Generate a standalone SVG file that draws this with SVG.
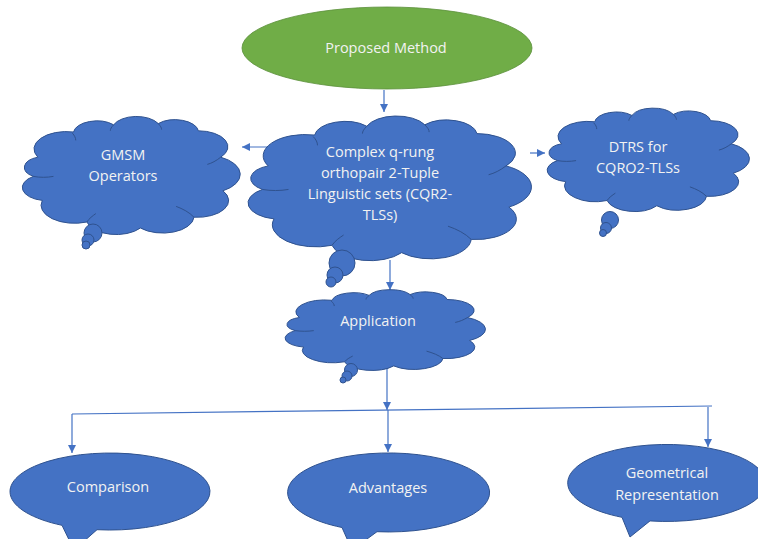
<svg xmlns="http://www.w3.org/2000/svg" xmlns:xlink="http://www.w3.org/1999/xlink" width="758" height="539" viewBox="0 0 758 539">
<style>
.blue{fill:#4472C4;stroke:#2F528F;stroke-width:1}
.cl{fill:#4472C4;stroke:#2F528F;stroke-width:1;vector-effect:non-scaling-stroke}
.inner{fill:none;stroke:#2F528F;stroke-width:1;vector-effect:non-scaling-stroke}
.green{fill:#70AD47;stroke:#5B8F3A;stroke-width:0.8}
.t{font-family:"Open Sans","Liberation Sans",sans-serif;font-size:14.5px;fill:#F2F2F2;text-anchor:middle}
.conn{fill:none;stroke:#4472C4;stroke-width:1.2}
</style>
<defs>
<marker id="arr" viewBox="0 0 10 10" refX="10" refY="5" markerWidth="8" markerHeight="8" markerUnits="userSpaceOnUse" orient="auto">
<path d="M0 0 L10 5 L0 10 Z" fill="#4472C4"/>
</marker>
<g id="cloud">
<path class="cl" d="M 8 36 A 14.5 14.5 0 0 1 24 15 A 10.5 10.5 0 0 1 42 9 A 11 11 0 0 1 62 8 A 10.5 10.5 0 0 1 80 14 A 13.3 13.3 0 0 1 90 36 A 16 16 0 0 1 91 64 A 14 14 0 0 1 78 86 A 14 14 0 0 1 54 95 A 13.5 13.5 0 0 1 30 90 A 15 15 0 0 1 10 72 A 11 11 0 0 1 6 52 A 9 9 0 0 1 8 36 Z"/>
<path class="inner" d="M 23.5 16 C 24.5 18 25 20 25 22 M 42 9 C 41 11 40.5 12.5 40.5 14 M 62 8 C 63 10 63.5 11.5 63.5 13 M 90 36 C 88 39 86 41 84 42 M 78 86 C 76 82 73 79 70 77 M 30 90 C 31 87 32.5 85 34 83 M 6 52 C 9 53 12 53 15 52"/>
</g>
</defs>

<g id="connectors">
<path class="conn" d="M384 90 L384 112" marker-end="url(#arr)"/>
<path class="conn" d="M276 147 L242 147" marker-end="url(#arr)"/>
<path class="conn" d="M530 153 L545 153" marker-end="url(#arr)"/>
<path class="conn" d="M390 260 L390 290" marker-end="url(#arr)"/>
<path class="conn" d="M387 368 L387 410" marker-end="url(#arr)"/>
<path class="conn" d="M72 414 L712 406"/>
<path class="conn" d="M72 414 L72 453" marker-end="url(#arr)"/>
<path class="conn" d="M388 410 L388 452" marker-end="url(#arr)"/>
<path class="conn" d="M708 407 L708 447" marker-end="url(#arr)"/>
</g>

<g id="node-proposed">
<ellipse class="green" cx="387" cy="48" rx="145" ry="41"/>
<text class="t" x="386" y="53">Proposed Method</text>
</g>

<g id="node-gmsm">
<use xlink:href="#cloud" transform="translate(20,114) scale(2.23,1.2)"/>
<circle class="blue" cx="93" cy="233" r="9"/>
<circle class="blue" cx="88" cy="240" r="6"/>
<circle class="blue" cx="86" cy="245" r="4"/>
<text class="t" x="123" y="160">GMSM</text>
<text class="t" x="123" y="181">Operators</text>
</g>

<g id="node-central">
<use xlink:href="#cloud" transform="translate(245,113) scale(2.9,1.47)"/>
<circle class="blue" cx="342" cy="263" r="13"/>
<circle class="blue" cx="335" cy="275" r="8"/>
<circle class="blue" cx="331" cy="282" r="5"/>
<text class="t" x="380" y="157">Complex q-rung</text>
<text class="t" x="380" y="178">orthopair 2-Tuple</text>
<text class="t" x="380" y="199">Linguistic sets (CQR2-</text>
<text class="t" x="380" y="220">TLSs)</text>
</g>

<g id="node-dtrs">
<use xlink:href="#cloud" transform="translate(545,106) scale(2.07,1.05)"/>
<circle class="blue" cx="610" cy="220" r="8.5"/>
<circle class="blue" cx="606" cy="228" r="5.5"/>
<circle class="blue" cx="603" cy="233" r="3.5"/>
<text class="t" x="638" y="152">DTRS for</text>
<text class="t" x="638" y="173">CQRO2-TLSs</text>
</g>

<g id="node-application">
<use xlink:href="#cloud" transform="translate(283,288) scale(2.05,0.82)"/>
<circle class="blue" cx="351" cy="370" r="6.5"/>
<circle class="blue" cx="347" cy="376" r="5"/>
<circle class="blue" cx="343" cy="380" r="3"/>
<text class="t" x="378" y="326">Application</text>
</g>

<g id="node-comparison">
<path class="blue" d="M62 525.3 L74 550 L97 529.7 A100 38.5 0 1 0 62 525.3 Z"/>
<text class="t" x="108" y="492">Comparison</text>
</g>

<g id="node-advantages">
<path class="blue" d="M342 527.5 L352 550 L377 531.7 A101 39.5 0 1 0 342 527.5 Z"/>
<text class="t" x="388" y="493">Advantages</text>
</g>

<g id="node-geometrical">
<path class="blue" d="M622 517.3 L630 537 L650 520.9 A99 38.5 0 1 0 622 517.3 Z"/>
<text class="t" x="667" y="478">Geometrical</text>
<text class="t" x="667" y="500">Representation</text>
</g>
</svg>
